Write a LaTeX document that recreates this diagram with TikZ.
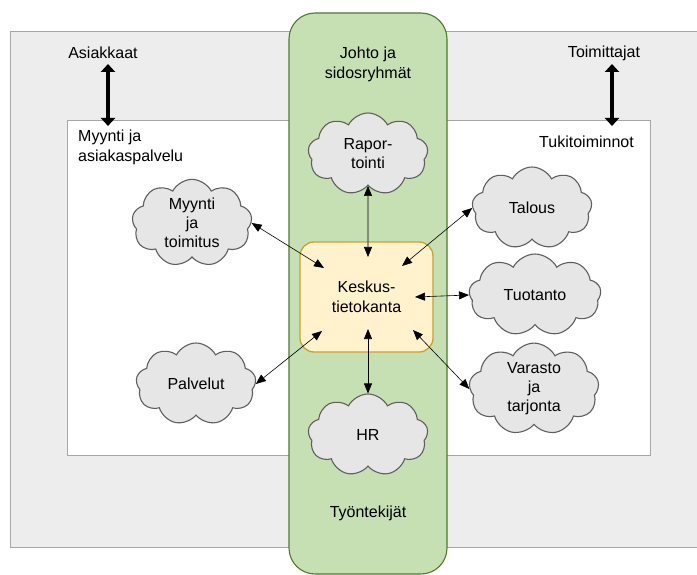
\documentclass[tikz,border=0pt]{standalone}
\usepackage{fontspec}
\setmainfont{Liberation Sans}
\usetikzlibrary{shapes.symbols,arrows.meta,positioning}
\definecolor{outerfill}{HTML}{EDEDED}
\definecolor{outerdraw}{HTML}{A6A6A6}
\definecolor{greenfill}{HTML}{C6E0B4}
\definecolor{greendraw}{HTML}{4E7A2C}
\definecolor{cloudfill}{HTML}{E7E6E6}
\definecolor{clouddraw}{HTML}{5F5F5F}
\definecolor{dbfill}{HTML}{FFF2CC}
\definecolor{dbdraw}{HTML}{C9A22E}
\tikzset{
  txt/.style={font=\fontsize{16}{20}\selectfont, inner sep=0pt, align=center},
  cloudbox/.style={cloud, cloud puffs=9, cloud puff arc=125, aspect=1.45,
    draw=clouddraw, fill=cloudfill, line width=1.1pt, inner sep=0pt,
    minimum width=120pt, minimum height=82pt, align=center,
    font=\fontsize{16}{19}\selectfont},
  thin arrow/.style={draw=black, line width=0.6pt,
    {Triangle[length=10pt,width=8pt]}-{Triangle[length=10pt,width=8pt]}},
  thick arrow/.style={draw=black, line width=4.5pt,
    {Triangle[length=8pt,width=14pt]}-{Triangle[length=8pt,width=14pt]}}
}
\begin{document}
\begin{tikzpicture}[x=1pt,y=-1pt]
\clip (0,0) rectangle (697,575);
\fill[white] (0,0) rectangle (697,575);
% outer environment
\draw[outerdraw, fill=outerfill, line width=0.8pt] (10,31) rectangle (710,547);
% inner organisation
\draw[outerdraw, fill=white, line width=0.8pt] (67,120) rectangle (650,455);
% green band
\draw[greendraw, fill=greenfill, line width=1.1pt, rounded corners=26pt] (289,13) rectangle (447,574);
% database
\node[draw=dbdraw, fill=dbfill, line width=1.3pt, rounded corners=14pt,
  minimum width=133pt, minimum height=110pt, txt] (db) at (366.5,297) {Keskus-\\tietokanta};
% clouds
\node[cloudbox] (rap) at (368,154) {Rapor-\\tointi};
\node[cloudbox] (myy) at (192,223) {Myynti\\ja\\toimitus};
\node[cloudbox] (pal) at (196,384) {Palvelut};
\node[cloudbox] (hr) at (368,435) {HR};
\node[cloudbox] (tal) at (532,208) {Talous};
\node[cloudbox, minimum width=132pt] (tuo) at (535,295) {Tuotanto};
\node[cloudbox, minimum width=130pt] (var) at (534,389) {Varasto\\ja\\tarjonta};
% labels
\node[txt] (asi) at (103,53) {Asiakkaat};
\node[txt] (toi) at (604,53) {Toimittajat};
\node[txt, align=left, anchor=north west] (myl) at (78,130) {Myynti ja\\asiakaspalvelu};
\node[txt, anchor=east] (tuk) at (634,142) {Tukitoiminnot};
\node[txt] (joh) at (368,64) {Johto ja\\sidosryhmät};
\node[txt] (tyo) at (368,513) {Työntekijät};
% anchor points for thick arrows
\coordinate (asitop) at (108,64);
\coordinate (asibot) at (108,126);
\coordinate (toitop) at (612,64);
\coordinate (toibot) at (612,126);
\draw[thick arrow] (asitop) -- (asibot);
\draw[thick arrow] (toitop) -- (toibot);
% points inside database
\coordinate (dbn) at (368,257);
\coordinate (dbs) at (368,329);
\coordinate (dbnw) at (324,268);
\coordinate (dbsw) at (322,331);
\coordinate (dbne) at (402,266);
\coordinate (dbe) at (415,297);
\coordinate (dbse) at (413,330);
% thin arrows
\draw[thin arrow] (rap.south) -- (dbn);
\draw[thin arrow] (myy.east) -- (dbnw);
\draw[thin arrow] (pal.east) -- (dbsw);
\draw[thin arrow] (dbs) -- (hr.north);
\draw[thin arrow] (tal.west) -- (dbne);
\draw[thin arrow] (dbe) -- (tuo.west);
\draw[thin arrow] (dbse) -- (var.west);
\end{tikzpicture}
\end{document}
